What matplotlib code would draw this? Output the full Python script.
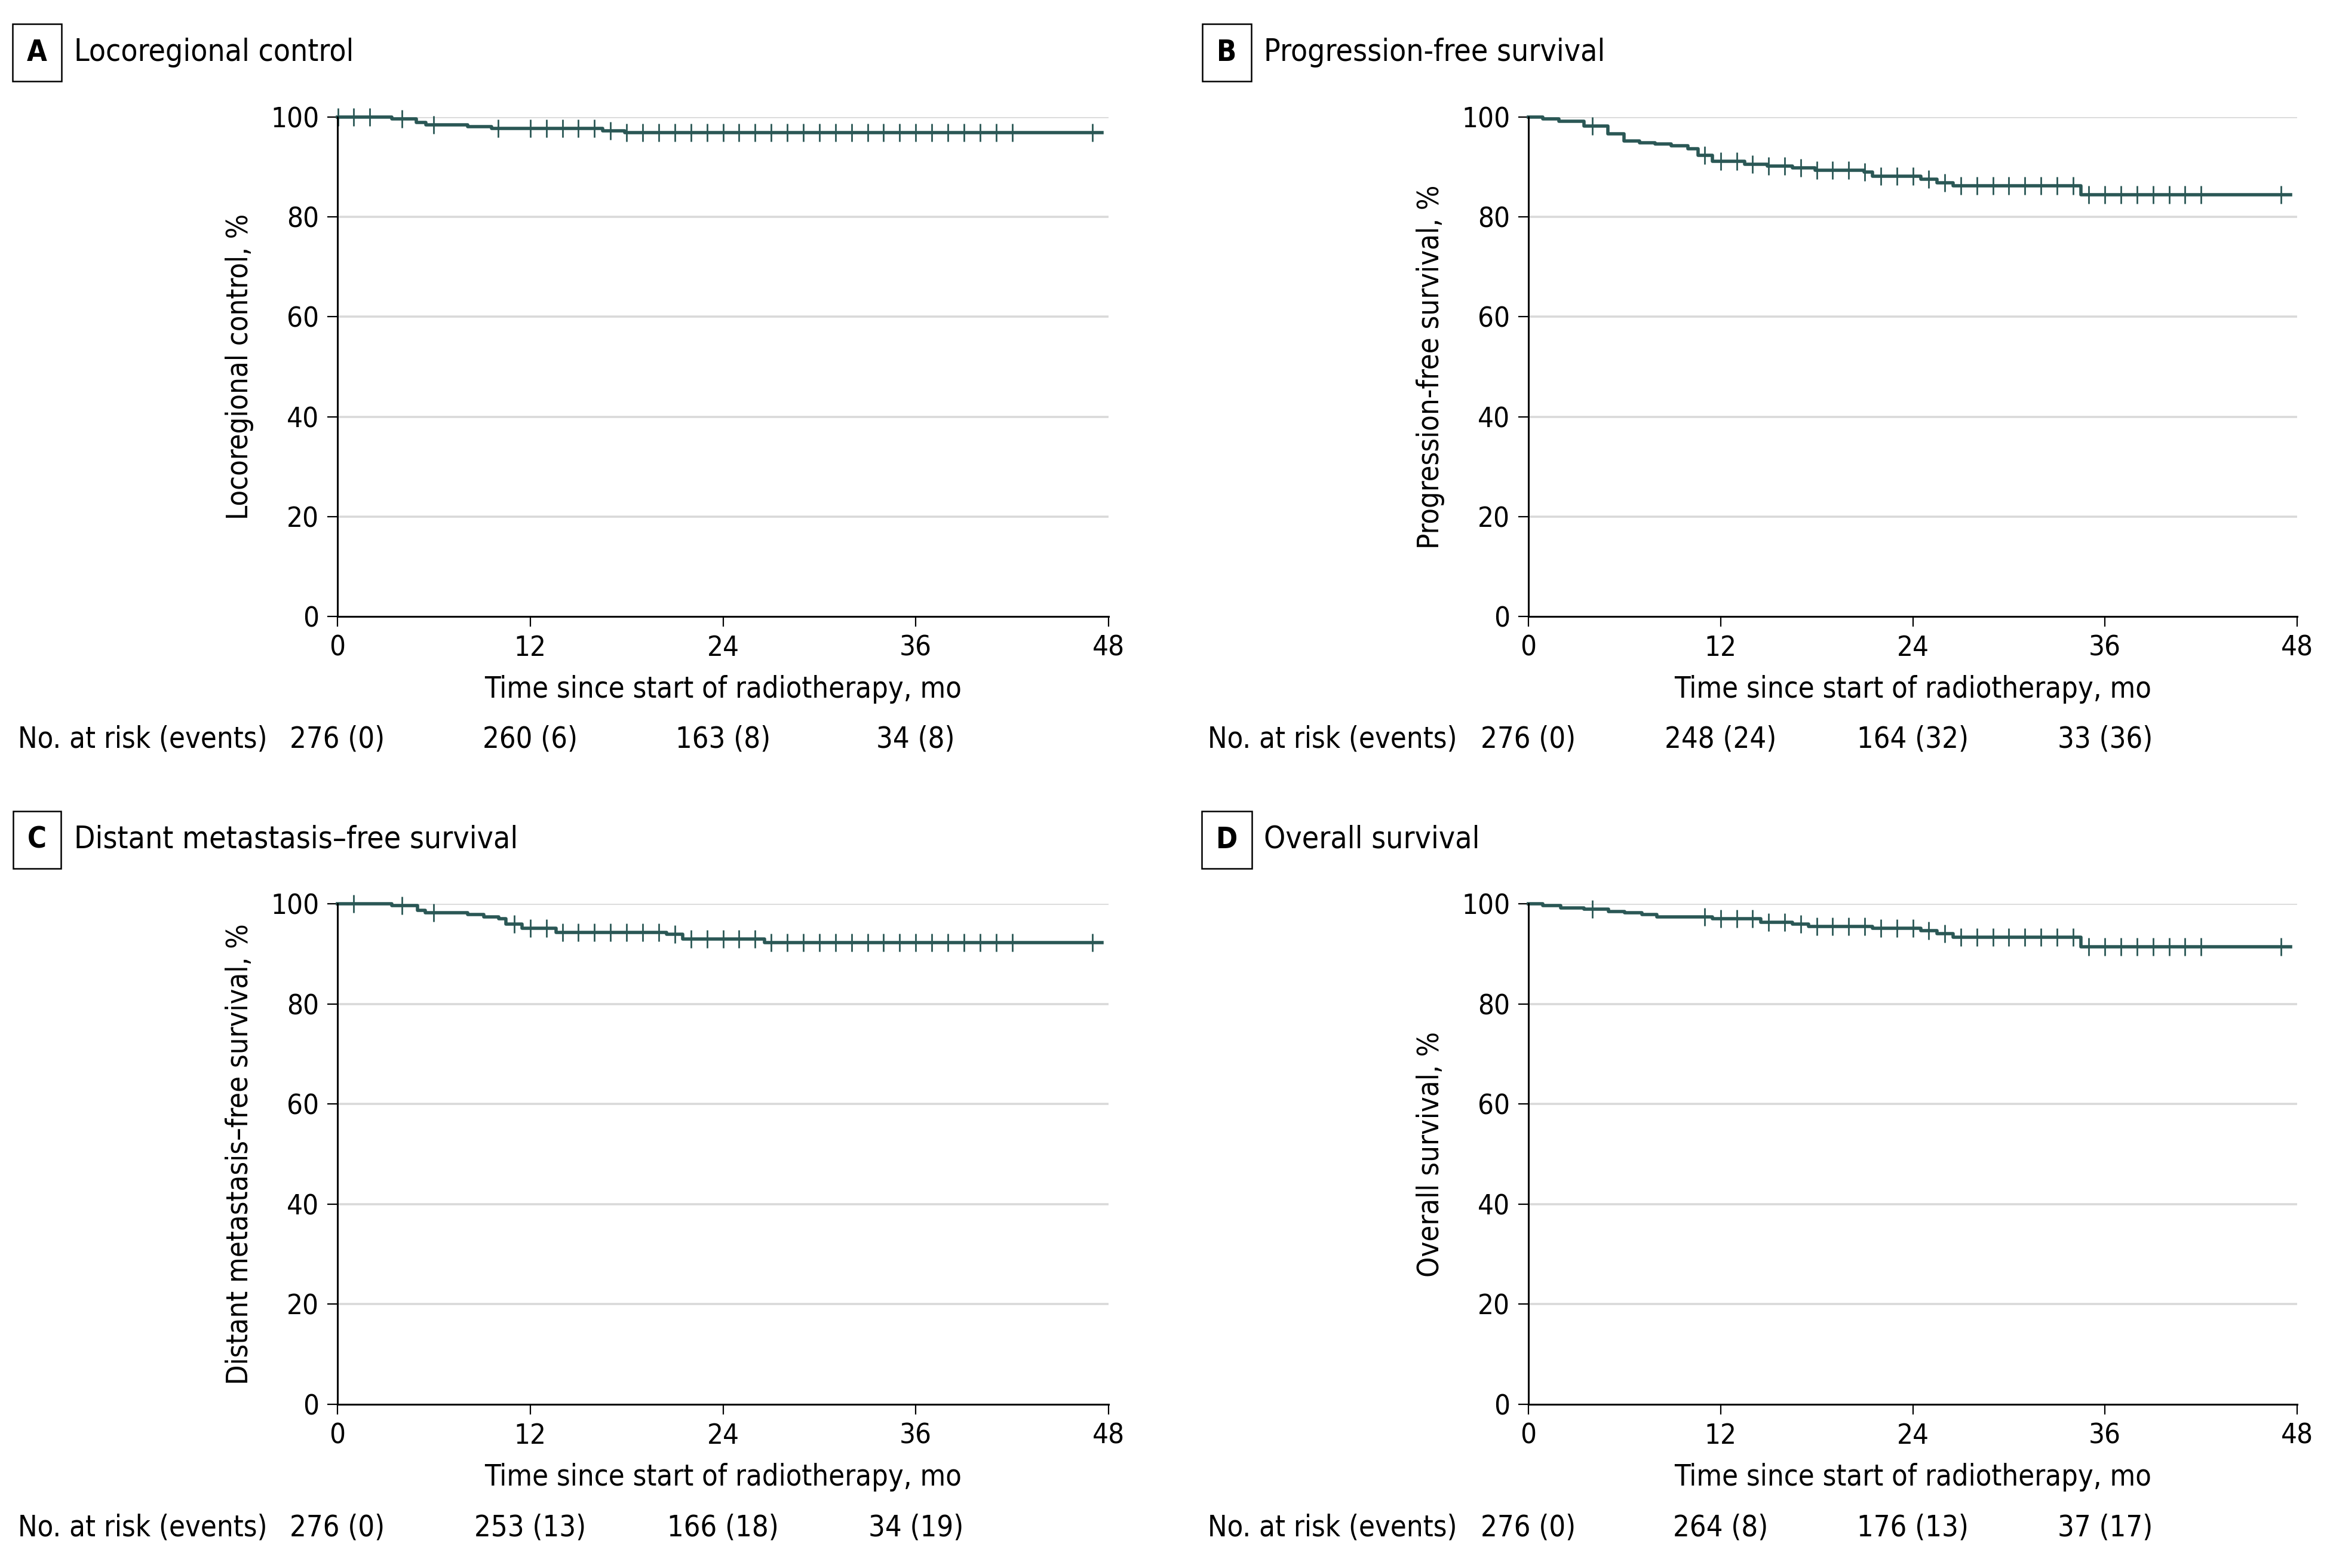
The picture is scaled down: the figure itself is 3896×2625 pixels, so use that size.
import numpy as np
import matplotlib
matplotlib.use("Agg")
import matplotlib.pyplot as plt
from matplotlib.transforms import blended_transform_factory

plt.rcParams['font.family'] = ['DejaVu Sans']
plt.rcParams['font.stretch'] = 'condensed'

# Kaplan-Meier step data (months, %)
times_a = [0, 3.4, 4.9, 5.5, 8.1, 9.6, 16.5, 17.9]
surv_a = [100, 99.6, 98.9, 98.5, 98.1, 97.7, 97.3, 96.9]
cens_a = [0.05, 1, 2, 4, 6, 10, 12, 13, 14, 15, 16, 17, 18, 19, 20, 21, 22, 23, 24, 25,
          26, 27, 28, 29, 30, 31, 32, 33, 34, 35, 36, 37, 38, 39, 40, 41, 42, 47]

times_b = [0, 0.9, 1.9, 3.45, 4.95, 5.95, 6.95, 7.9, 8.9, 9.95, 10.6, 11.5, 13.5, 14.9,
           16.5, 17.9, 20.95, 21.5, 24.5, 25.5, 26.5, 34.5]
surv_b = [100, 99.6, 99.2, 98.2, 96.7, 95.2, 94.9, 94.6, 94.3, 93.7, 92.4, 91.2, 90.6, 90.2,
          89.8, 89.3, 89.0, 88.1, 87.6, 86.9, 86.3, 84.5]
cens_b = [4, 11, 12, 13, 14, 15, 16, 17, 18, 19, 20, 21, 22, 23, 24, 25, 26, 27, 28, 29,
          30, 31, 32, 33, 34, 35, 36, 37, 38, 39, 40, 41, 42, 47]

times_c = [0, 3.4, 5.0, 5.45, 8.1, 9.1, 10.05, 10.5, 11.5, 13.6, 20.5, 21.5, 26.6]
surv_c = [100, 99.6, 98.7, 98.2, 97.8, 97.4, 97.0, 95.9, 95.1, 94.3, 93.9, 93.0, 92.3]
cens_c = [1, 4, 6, 11, 12, 13, 14, 15, 16, 17, 18, 19, 20, 21, 22, 23, 24, 25, 26, 27,
          28, 29, 30, 31, 32, 33, 34, 35, 36, 37, 38, 39, 40, 41, 42, 47]

times_d = [0, 0.9, 2.0, 3.45, 5.0, 6.0, 7.1, 8.0, 11.5, 14.5, 16.5, 17.5, 21.5, 24.5,
           25.5, 26.5, 34.5]
surv_d = [100, 99.6, 99.2, 98.9, 98.5, 98.2, 97.8, 97.4, 97.0, 96.3, 95.9, 95.5, 95.1, 94.6,
          94.0, 93.3, 91.4]
cens_d = [4, 11, 12, 13, 14, 15, 16, 17, 18, 19, 20, 21, 22, 23, 24, 25, 26, 27, 28, 29,
          30, 31, 32, 33, 34, 35, 36, 37, 38, 39, 40, 41, 42, 47]

end_time = 47.6

# number at risk table
risk_months = [0, 12, 24, 36]
at_risk_a = [276, 260, 163, 34]
events_a = [0, 6, 8, 8]
at_risk_b = [276, 248, 164, 33]
events_b = [0, 24, 32, 36]
at_risk_c = [276, 253, 166, 34]
events_c = [0, 13, 18, 19]
at_risk_d = [276, 264, 176, 37]
events_d = [0, 8, 13, 17]

letters = ['A', 'B', 'C', 'D']
titles = ['Locoregional control', 'Progression-free survival',
          'Distant metastasis–free survival', 'Overall survival']
ylabels = ['Locoregional control, %', 'Progression-free survival, %',
           'Distant metastasis–free survival, %', 'Overall survival, %']

W, H = 3896, 2625
fig = plt.figure(figsize=(W / 200, H / 200), dpi=200)
FS = 17.5
curve_color = '#2a5755'

# panel geometry in pixels: (axes left, axes width, y of 0 line, y of 100 line, text column x, title row y)
panels = [
    (565, 1291, 1032, 196, 30, 88),
    (2559, 1287, 1032, 196, 2022, 88),
    (565, 1291, 2351, 1513, 30, 1406),
    (2559, 1287, 2351, 1513, 2022, 1406),
]

data = [
    (times_a, surv_a, cens_a, at_risk_a, events_a),
    (times_b, surv_b, cens_b, at_risk_b, events_b),
    (times_c, surv_c, cens_c, at_risk_c, events_c),
    (times_d, surv_d, cens_d, at_risk_d, events_d),
]

for i, (geom, (t, s, cens, risk, ev)) in enumerate(zip(panels, data)):
    left, width, y0, y100, tx, ty = geom
    ax = fig.add_axes([left / W, 1 - y0 / H, width / W, (y0 - y100) / H])

    tt = np.array(t + [end_time])
    ss = np.array(s + [s[-1]])
    ax.step(tt, ss, where='post', color=curve_color, lw=2.0, clip_on=False, zorder=3)
    cens = np.array(cens)
    idx = np.searchsorted(tt, cens, side='right') - 1
    ax.plot(cens, ss[idx], ls='none', marker='|', ms=11, mew=1.0,
            color=curve_color, clip_on=False, zorder=4)

    ax.set_xlim(0, 48)
    ax.set_ylim(0, 100)
    ax.set_xticks([0, 12, 24, 36, 48])
    ax.set_yticks([0, 20, 40, 60, 80, 100])
    for yv in [20, 40, 60, 80, 100]:
        ax.axhline(yv, color='#d9d9d9', lw=1.3, zorder=1)
    for sp in ['top', 'right']:
        ax.spines[sp].set_visible(False)
    for sp in ['left', 'bottom']:
        ax.spines[sp].set_linewidth(1.1)
        ax.spines[sp].set_zorder(5)
    ax.tick_params(direction='out', length=6, width=0.8, labelsize=17, pad=5)
    ax.set_xlabel('Time since start of radiotherapy, mo', fontsize=FS, labelpad=8)
    ax.set_ylabel(ylabels[i], fontsize=FS, labelpad=10)

    # panel letter and title
    fig.text((tx + 32) / W, 1 - ty / H, letters[i], fontsize=FS, fontweight='bold',
             ha='center', va='center',
             bbox=dict(boxstyle='square,pad=0.5', fc='white', ec='black', lw=0.9))
    fig.text((tx + 94) / W, 1 - ty / H, titles[i], fontsize=18.5, ha='left', va='center')

    # number at risk row
    ry = 1 - (y0 + 206) / H
    fig.text(tx / W, ry, 'No. at risk (events)', fontsize=FS, ha='left', va='center')
    tr = blended_transform_factory(ax.transData, fig.transFigure)
    for m, n, e in zip(risk_months, risk, ev):
        ax.text(m, ry, f'{n} ({e})', fontsize=FS, ha='center', va='center',
                transform=tr, clip_on=False)

fig.savefig('out.png', dpi=200, facecolor='white')
